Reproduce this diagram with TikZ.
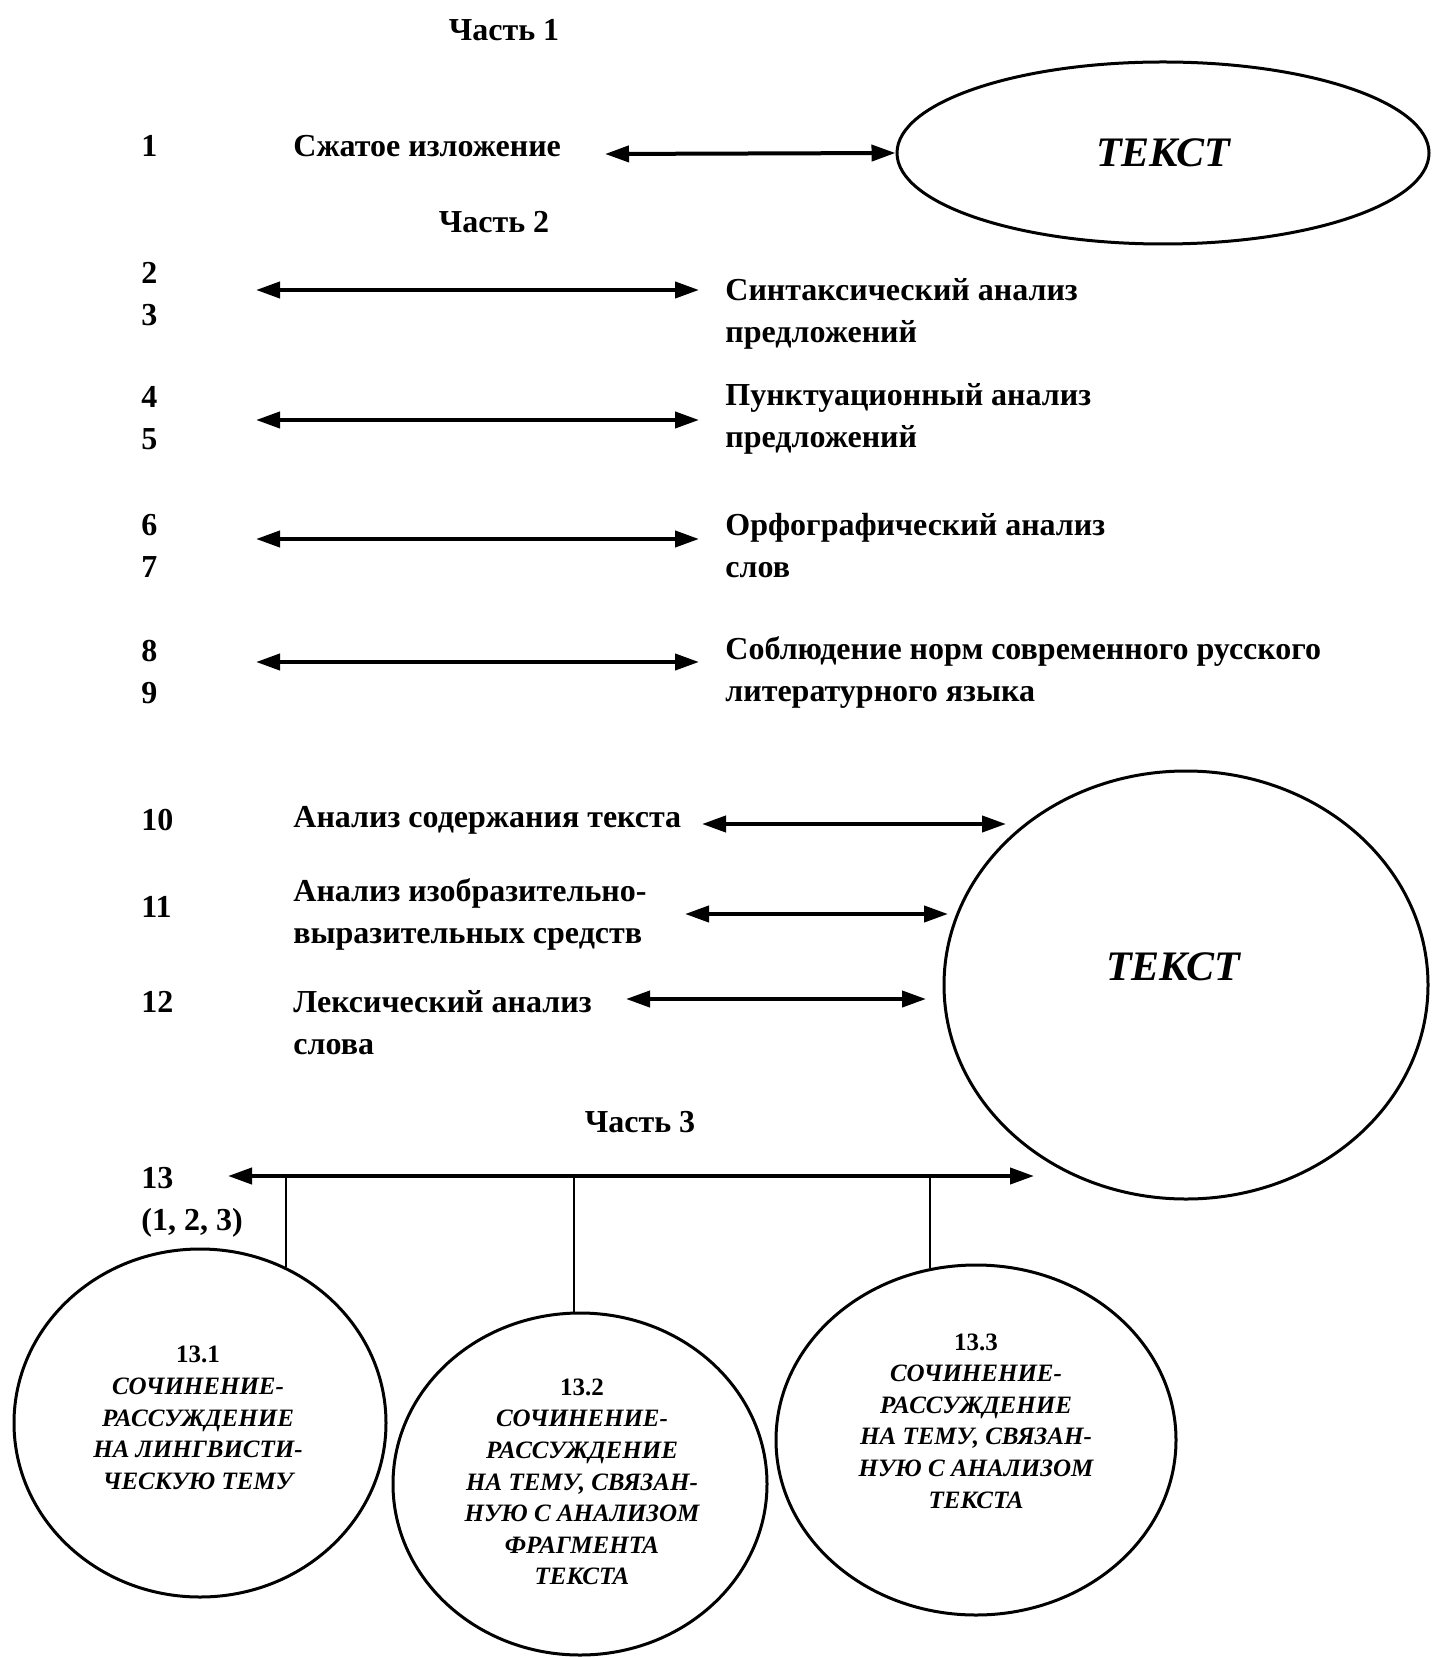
\documentclass[tikz,border=0pt]{standalone}
\usepackage{fontspec}
\setmainfont{Liberation Serif}
\usetikzlibrary{arrows.meta,shapes.geometric}

\begin{document}
\begin{tikzpicture}[x=0.5pt,y=-0.5pt,
    lbl/.style={font=\fontsize{16}{21}\selectfont\bfseries, inner sep=0pt, align=left, anchor=west},
    part/.style={font=\fontsize{16}{21}\selectfont\bfseries, inner sep=0pt},
    dbl/.style={{Triangle[length=12pt,width=8pt]}-{Triangle[length=12pt,width=8pt]}, line width=2pt},
    oval/.style={draw, ellipse, line width=1.5pt, inner sep=0pt},
    big/.style={font=\fontsize{21}{25}\selectfont\bfseries\itshape, inner sep=0pt},
    essay/.style={font=\fontsize{12.5}{15.8}\selectfont\bfseries\itshape, inner sep=0pt, align=center},
    stem/.style={line width=0.9pt}]
    \useasboundingbox (0,0) rectangle (1432,1657);

    % Часть 1
    \node[part] (p1) at (504,30) {Часть 1};
    \node[lbl] (n1) at (141,146) {1};
    \node[lbl] (szh) at (293,146) {Сжатое изложение};
    \node[oval, minimum width=266pt, minimum height=91pt, big] (tekst1) at (1163,153) {ТЕКСТ};
    \coordinate (a1) at (605,154);
    \draw[dbl] (a1) -- (tekst1.west);

    % Часть 2
    \node[part] (p2) at (494,222) {Часть 2};
    \node[lbl] (n2) at (141,294) {2\\3};
    \node[lbl] (n4) at (141,418) {4\\5};
    \node[lbl] (n6) at (141,546) {6\\7};
    \node[lbl] (n8) at (141,672) {8\\9};
    \node[lbl] (sint) at (725,314) {Синтаксический анализ\\предложений};
    \node[lbl] (punkt) at (725,419) {Пунктуационный анализ\\предложений};
    \node[lbl] (orf) at (725,546) {Орфографический анализ\\слов};
    \node[lbl] (norm) at (725,672) {Соблюдение норм современного русского\\литературного языка};
    \coordinate (l2) at (256,290);  \coordinate (r2) at (699,290);
    \coordinate (l4) at (256,420);  \coordinate (r4) at (699,420);
    \coordinate (l6) at (256,539);  \coordinate (r6) at (699,539);
    \coordinate (l8) at (256,662);  \coordinate (r8) at (699,662);
    \draw[dbl] (l2) -- (r2);
    \draw[dbl] (l4) -- (r4);
    \draw[dbl] (l6) -- (r6);
    \draw[dbl] (l8) -- (r8);

    % 10--12
    \node[lbl] (n10) at (141,820) {10};
    \node[lbl] (n11) at (141,907) {11};
    \node[lbl] (n12) at (141,1002) {12};
    \node[lbl] (sod) at (293,820) {Анализ содержания текста};
    \node[lbl] (izo) at (293,914) {Анализ изобразительно-\\выразительных средств};
    \node[lbl] (leks) at (293,1023) {Лексический анализ\\слова};
    \node[oval, minimum width=242pt, minimum height=214pt] (tekst2) at (1186,985) {};
    \node[big] (tekst2t) at (1173,967) {ТЕКСТ};
    \coordinate (l10) at (702,824);  \coordinate (r10) at (1006,824);
    \coordinate (l11) at (685,914);  \coordinate (r11) at (948,914);
    \coordinate (l12) at (626,999);  \coordinate (r12) at (926,999);
    \draw[dbl] (l10) -- (r10);
    \draw[dbl] (l11) -- (r11);
    \draw[dbl] (l12) -- (r12);

    % Часть 3
    \node[part] (p3) at (640,1122) {Часть 3};
    \node[lbl] (n13) at (141,1202) {13\\(1, 2, 3)};
    \coordinate (l13) at (228,1176);  \coordinate (r13) at (1034,1176);
    \draw[dbl] (l13) -- (r13);

    \node[oval, minimum width=186pt, minimum height=174pt] (e131) at (200,1423) {};
    \node[oval, minimum width=187pt, minimum height=171pt] (e132) at (580,1484) {};
    \node[oval, minimum width=200pt, minimum height=175pt] (e133) at (976,1440) {};
    \node[essay] (t131) at (198,1418) {{\upshape 13.1}\\СОЧИНЕНИЕ-\\РАССУЖДЕНИЕ\\НА ЛИНГВИСТИ-\\ЧЕСКУЮ ТЕМУ};
    \node[essay] (t132) at (582,1482) {{\upshape 13.2}\\СОЧИНЕНИЕ-\\РАССУЖДЕНИЕ\\НА ТЕМУ, СВЯЗАН-\\НУЮ С АНАЛИЗОМ\\ФРАГМЕНТА\\ТЕКСТА};
    \node[essay] (t133) at (976,1421) {{\upshape 13.3}\\СОЧИНЕНИЕ-\\РАССУЖДЕНИЕ\\НА ТЕМУ, СВЯЗАН-\\НУЮ С АНАЛИЗОМ\\ТЕКСТА};

    \draw[stem] (e131.61 |- l13) -- (e131.61);
    \draw[stem] (e132.92 |- l13) -- (e132.92);
    \draw[stem] (e133.105 |- l13) -- (e133.105);
\end{tikzpicture}
\end{document}
